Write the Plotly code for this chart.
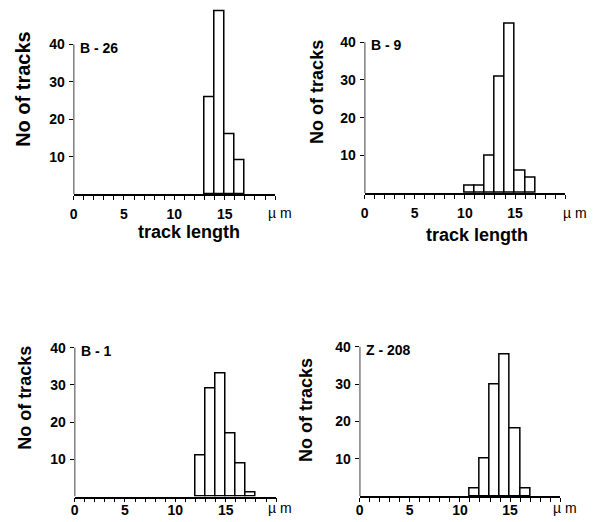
import plotly.graph_objects as go

# ---- data ----
bin_width = 1
b26_edges = [13, 14, 15, 16]
b26_counts = [26, 49, 16, 9]
b9_edges = [10, 11, 12, 13, 14, 15, 16]
b9_counts = [2, 2, 10, 31, 45, 6, 4]
b1_edges = [12, 13, 14, 15, 16, 17]
b1_counts = [11, 29, 33, 17, 9, 1]
z208_edges = [11, 12, 13, 14, 15, 16]
z208_counts = [2, 10, 30, 38, 18, 2]
panel_names = ["B - 26", "B - 9", "B - 1", "Z - 208"]
x_tick_vals = [0, 5, 10, 15]
y_tick_vals = [10, 20, 30, 40]
x_unit_label = "µ m"
y_title = "No of tracks"
x_title = "track length"

W, H = 594, 522
def fx(p):
    return p / W
def fy(p):
    return 1 - p / H

# panel geometry in pixels: x at 0, x at 20, y at 0, y at 50
panels = [
    dict(x0=70, x1=273, yb=194.0, yt=194.0 - 50 * 3.7375),
    dict(x0=363, x1=565, yb=193.0, yt=193.0 - 50 * 3.7675),
    dict(x0=71, x1=274, yb=496.5, yt=496.5 - 50 * 3.72),
    dict(x0=358, x1=560, yb=496.0, yt=496.0 - 50 * 3.73),
]
data_sets = [(b26_edges, b26_counts), (b9_edges, b9_counts),
             (b1_edges, b1_counts), (z208_edges, z208_counts)]

FONT = "Liberation Sans, Arial, sans-serif"
fig = go.Figure()
annotations = []
shapes = []

for i, (p, (edges, counts)) in enumerate(zip(panels, data_sets)):
    k = "" if i == 0 else str(i + 1)
    fig.add_trace(go.Bar(
        x=edges, y=counts, width=bin_width, offset=0,
        marker=dict(color="white", line=dict(color="black", width=1.5)),
        xaxis="x" + k, yaxis="y" + k, showlegend=False, hoverinfo="skip",
    ))
    standoff = 2 if i < 2 else -4
    fig.update_layout(**{
        "xaxis" + k: dict(
            domain=[fx(p["x0"]), fx(p["x1"])], range=[0, 20], anchor="y" + k,
            showline=True, linecolor="black", linewidth=1.5,
            ticks="outside", ticklen=4, tickwidth=1.3, tickcolor="black",
            tickvals=x_tick_vals, ticklabelstandoff=standoff,
            minor=dict(dtick=1, ticks="outside", ticklen=4, tickwidth=1.3,
                       tickcolor="black", showgrid=False),
            showgrid=False, zeroline=False, fixedrange=True,
            tickfont=dict(family=FONT, size=14, color="black", weight="bold"),
        ),
        "yaxis" + k: dict(
            domain=[fy(p["yb"]), fy(p["yt"])], range=[0, 50], anchor="x" + k,
            showline=False, ticks="outside", ticklen=4, tickwidth=1.3,
            tickcolor="black", tickvals=y_tick_vals, ticklabelstandoff=1,
            showgrid=False, zeroline=False, fixedrange=True,
            tickfont=dict(family=FONT, size=14, color="black", weight="bold"),
        ),
    })
    # y axis line only up to 40
    shapes.append(dict(type="line", xref="x" + k, yref="y" + k,
                       x0=0, x1=0, y0=0, y1=40,
                       line=dict(color="black", width=1.5)))
    annotations.append(dict(
        text=panel_names[i], xref="x" + k, yref="y" + k, x=0, y=40,
        xanchor="left", yanchor="middle", xshift=4, yshift=-3, showarrow=False,
        font=dict(family=FONT, size=14, color="black", weight="bold")))

# y titles
ytitle_pos = [(19, 89, 20), (315, 92, 18), (21, 398, 18), (304, 410, 18)]
for (xp, yp, fs) in ytitle_pos:
    annotations.append(dict(
        text=y_title, xref="paper", yref="paper", x=fx(xp), y=fy(yp),
        xanchor="center", yanchor="middle", textangle=-90, showarrow=False,
        font=dict(family=FONT, size=fs, color="black", weight="bold")))

# x titles (top row only)
for (xp, yp) in [(186, 232), (476, 235)]:
    annotations.append(dict(
        text=x_title, xref="paper", yref="paper", x=fx(xp), y=fy(yp),
        xanchor="center", yanchor="middle", showarrow=False,
        font=dict(family=FONT, size=18, color="black", weight="bold")))

# unit labels
for (xp, yp) in [(278, 213), (575, 213), (278, 508), (565, 508)]:
    annotations.append(dict(
        text=x_unit_label, xref="paper", yref="paper", x=fx(xp), y=fy(yp),
        xanchor="center", yanchor="middle", showarrow=False,
        font=dict(family=FONT, size=14, color="black")))

fig.update_layout(
    width=W, height=H, margin=dict(l=0, r=0, t=0, b=0),
    paper_bgcolor="white", plot_bgcolor="white",
    annotations=annotations, shapes=shapes, bargap=0,
)

fig.write_html(
    "out.html",
    config={"displayModeBar": False},
    post_script="document.body.style.margin='0';document.body.style.overflow='hidden';",
)
